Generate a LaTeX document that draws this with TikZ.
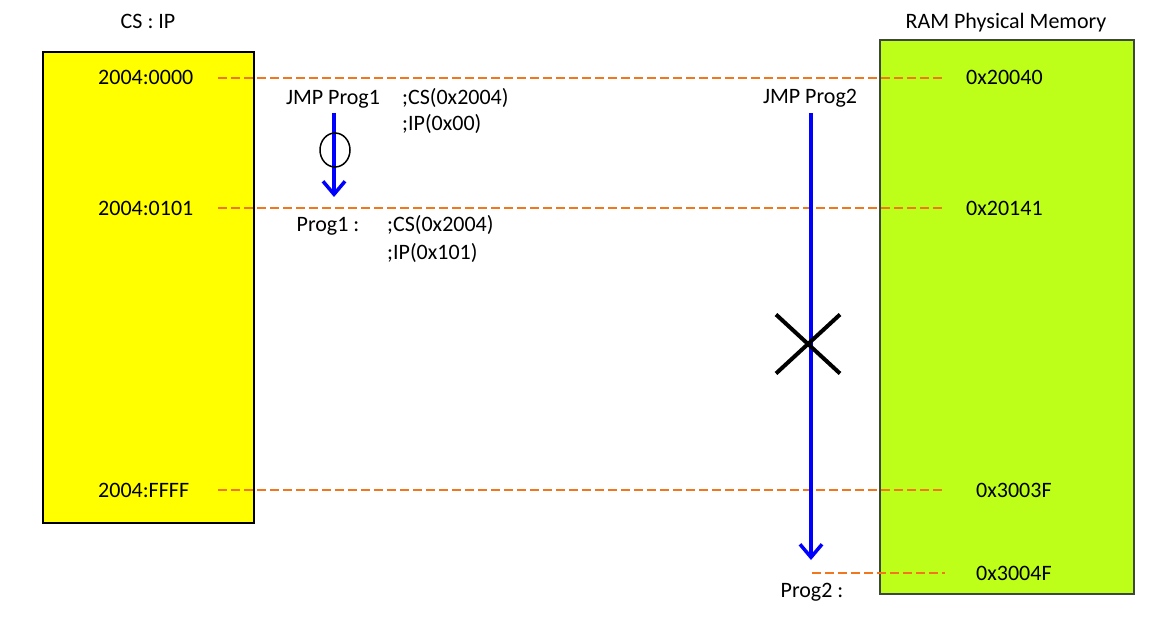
\documentclass[tikz,border=0pt]{standalone}
\usepackage{fontspec}
\setmainfont{Carlito}
\usetikzlibrary{arrows.meta,shapes.geometric,shapes.misc}

\definecolor{segyellow}{RGB}{255,255,0}
\definecolor{ramgreen}{RGB}{190,255,26}
\definecolor{ramedge}{RGB}{60,72,60}
\definecolor{addrorange}{RGB}{242,118,28}
\definecolor{jmpblue}{RGB}{0,0,255}

\tikzset{
    lbl/.style={anchor=base west, inner sep=0pt},
    clbl/.style={anchor=base, inner sep=0pt},
    addrline/.style={addrorange, line width=2.5pt, dash pattern=on 9pt off 4pt},
    jmparrow/.style={jmpblue, line width=3.5pt, -{Straight Barb[length=13pt, width=22pt]}},
}

\begin{document}
\begin{tikzpicture}[x=1pt, y=-1pt, font=\fontsize{22}{26}\selectfont]
    \useasboundingbox (0,0) rectangle (1159,631);

    % memory blocks
    \node[draw, line width=2pt, fill=segyellow, minimum width=211pt, minimum height=471pt] (CSIP) at (148.5,287.5) {};
    \node[draw=ramedge, line width=2pt, fill=ramgreen, minimum width=254pt, minimum height=554pt] (RAM) at (1007,317) {};

    \node[clbl] (CSIPt) at (148,29) {CS : IP};
    \node[clbl] (RAMt) at (1006,29) {RAM Physical Memory};

    % logical addresses
    \node[lbl] (La) at (98,85) {2004:0000};
    \node[lbl] (Lb) at (98,215) {2004:0101};
    \node[lbl] (Lc) at (98,497) {2004:FFFF};

    % physical addresses
    \node[lbl] (Pa) at (966,85) {0x20040};
    \node[lbl] (Pb) at (966,215) {0x20141};
    \node[lbl] (Pc) at (976,497) {0x3003F};
    \node[lbl] (Pd) at (976,580) {0x3004F};

    \coordinate (La-r) at (218,78);
    \coordinate (Lb-r) at (218,208);
    \coordinate (Lc-r) at (218,490);
    \coordinate (Ld-r) at (812,573);
    \coordinate (Pa-l) at (945,78);
    \coordinate (Pb-l) at (945,208);
    \coordinate (Pc-l) at (945,490);
    \coordinate (Pd-l) at (945,573);

    \draw[addrline] (La-r) -- (Pa-l);
    \draw[addrline] (Lb-r) -- (Pb-l);
    \draw[addrline] (Lc-r) -- (Pc-l);
    \draw[addrline] (Ld-r) -- (Pd-l);

    % near jump
    \node[clbl] (JMP1) at (333,105) {JMP Prog1};
    \node[lbl] at (402,105) {;CS(0x2004)};
    \node[lbl] at (402,131) {;IP(0x00)};
    \node[clbl] (Prog1) at (328,232) {Prog1 :};
    \node[lbl] at (387,232) {;CS(0x2004)};
    \node[lbl] at (387,259) {;IP(0x101)};

    \coordinate (J1s) at (334,113);
    \coordinate (J1e) at (334,197);
    \draw[jmparrow] (J1s) -- (J1e);
    \node[draw, ellipse, line width=1.5pt, minimum width=30pt, minimum height=34pt, inner sep=0pt] (ok) at (335,150) {};

    % far jump
    \node[clbl] (JMP2) at (810,104) {JMP Prog2};
    \node[clbl] (Prog2) at (812,597) {Prog2 :};

    \coordinate (J2s) at (811,113);
    \coordinate (J2e) at (811,560);
    \draw[jmparrow] (J2s) -- (J2e);
    \node[draw, cross out, line width=4pt, minimum width=60pt, minimum height=55pt, inner sep=0pt] (no) at (808,344) {};
\end{tikzpicture}
\end{document}
